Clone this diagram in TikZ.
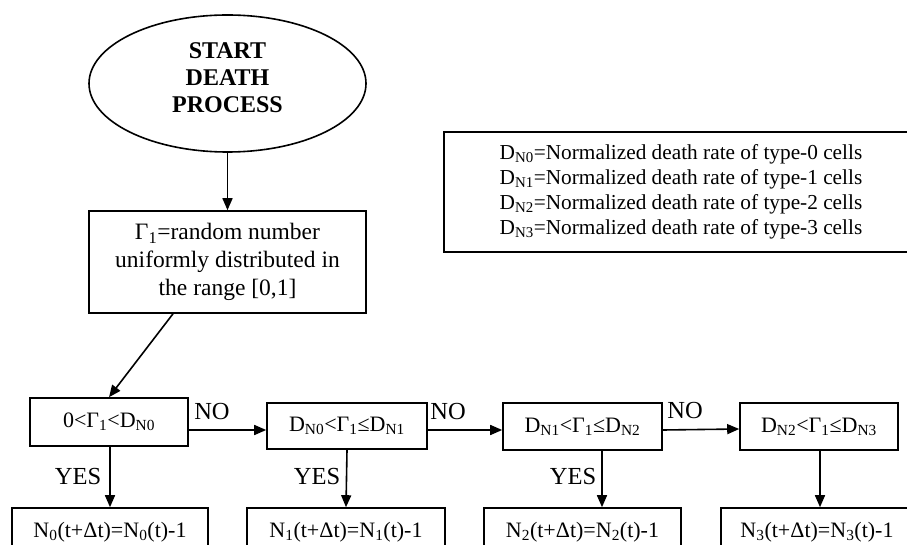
\documentclass[tikz,border=0pt]{standalone}
\usepackage{fontspec}
\setmainfont{Liberation Serif}
\usetikzlibrary{arrows.meta,shapes.geometric}
\tikzset{
  box/.style={draw,line width=1.6pt,inner sep=0pt,align=center},
  arr/.style={line width=1.6pt,-{Triangle[length=12pt,width=10pt]}},
  lbl/.style={inner sep=0pt,font=\fontsize{24.5}{28}\selectfont},
  btxt/.style={font=\fontsize{24}{27}\selectfont\bfseries,align=center,inner sep=0pt},
  rtxt/.style={font=\fontsize{23.5}{28}\selectfont},
  dtxt/.style={font=\fontsize{22}{26}\selectfont},
}
\begin{document}
\begin{tikzpicture}[x=1pt,y=-1pt]
\clip (0,0) rectangle (907,545);
\useasboundingbox (0,0) rectangle (907,545);
% start ellipse
\node[ellipse,draw,line width=1.6pt,minimum width=277pt,minimum height=137pt,inner sep=0pt] (start) at (227.5,83.5) {};
\node[btxt] (starttext) at (227.5,77.5) {START\\DEATH\\PROCESS};
% random number box
\node[box,rtxt,minimum width=277pt,minimum height=102pt] (rnd) at (227.5,262) {Γ\textsubscript{1}=random number\\uniformly distributed in\\the range [0,1]};
% legend
\node[box,minimum width=474pt,minimum height=120pt,font=\fontsize{21.3}{25}\selectfont] (leg) at (681,192)
 {D\textsubscript{N0}=Normalized death rate of type-0 cells\\
  D\textsubscript{N1}=Normalized death rate of type-1 cells\\
  D\textsubscript{N2}=Normalized death rate of type-2 cells\\
  D\textsubscript{N3}=Normalized death rate of type-3 cells};
% decision boxes
\node[box,dtxt,minimum width=158pt,minimum height=48pt] (A) at (109,422) {0<Γ\textsubscript{1}<D\textsubscript{N0}};
\node[box,dtxt,minimum width=160pt,minimum height=46pt] (B) at (347,426) {D\textsubscript{N0}<Γ\textsubscript{1}≤D\textsubscript{N1}};
\node[box,dtxt,minimum width=159pt,minimum height=47pt] (C) at (582.5,426.5) {D\textsubscript{N1}<Γ\textsubscript{1}≤D\textsubscript{N2}};
\node[box,dtxt,minimum width=158pt,minimum height=47pt] (D) at (819,426.5) {D\textsubscript{N2}<Γ\textsubscript{1}≤D\textsubscript{N3}};
% result boxes
\node[box,dtxt,minimum width=196pt,minimum height=48pt] (A2) at (110,532) {N\textsubscript{0}(t+Δt)=N\textsubscript{0}(t)-1};
\node[box,dtxt,minimum width=198pt,minimum height=48pt] (B2) at (346,532) {N\textsubscript{1}(t+Δt)=N\textsubscript{1}(t)-1};
\node[box,dtxt,minimum width=197pt,minimum height=48pt] (C2) at (582.5,532) {N\textsubscript{2}(t+Δt)=N\textsubscript{2}(t)-1};
\node[box,dtxt,minimum width=192pt,minimum height=48pt] (D2) at (817,532) {N\textsubscript{3}(t+Δt)=N\textsubscript{3}(t)-1};
% connectors
\draw[arr] (start.south) -- (rnd.north);
\draw[arr] ([xshift=-54.5pt]rnd.south) -- (A.north);
\draw[arr] ([yshift=-8pt]A.east) -- ([yshift=-4pt]B.west);
\draw[arr] ([yshift=-4pt]B.east) -- ([yshift=-3.5pt]C.west);
\draw[arr] ([yshift=-3.5pt]C.east) -- ([yshift=-2.5pt]D.west);
\draw[arr] ([xshift=1pt]A.south) -- (A2.north);
\draw[arr] (B.south) -- (B2.north);
\draw[arr] ([xshift=19.5pt]C.south) -- ([xshift=19.5pt]C2.north);
\draw[arr] ([xshift=1pt]D.south) -- ([xshift=3pt]D2.north);
% labels
\node[lbl] (no1) at (212,412) {NO};
\node[lbl] (no2) at (448,412) {NO};
\node[lbl] (no3) at (685,411) {NO};
\node[lbl] (yes1) at (78,477) {YES};
\node[lbl] (yes2) at (317,477) {YES};
\node[lbl] (yes3) at (573,477) {YES};
\end{tikzpicture}
\end{document}
